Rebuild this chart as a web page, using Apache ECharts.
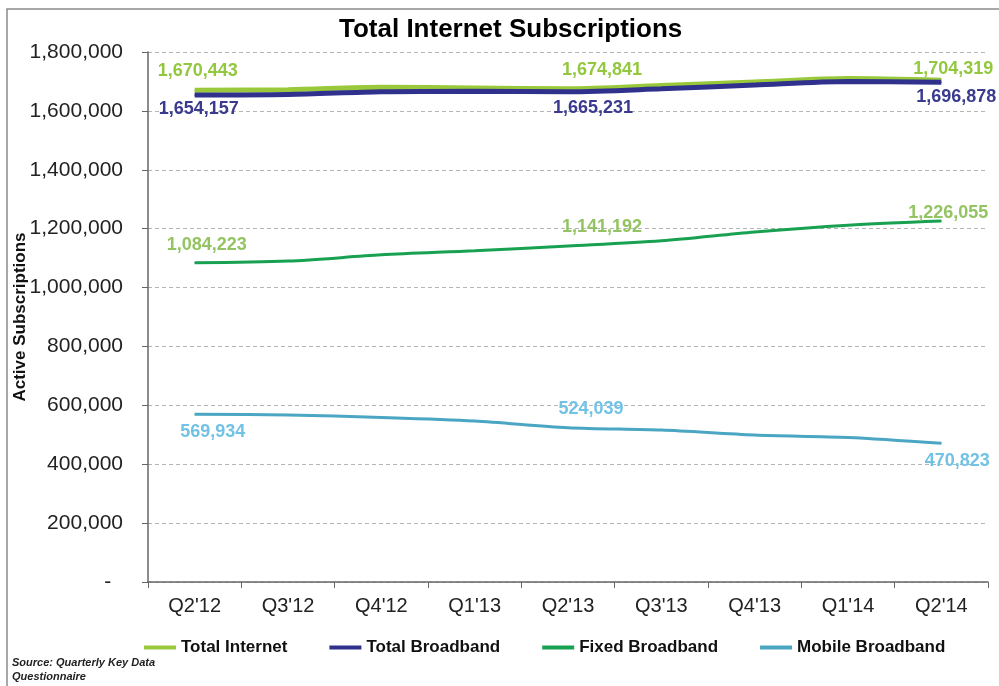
<!DOCTYPE html>
<html>
<head>
<meta charset="utf-8">
<script src="https://cdn.jsdelivr.net/npm/echarts@6/dist/echarts.min.js"></script>
<style>
    html, body { margin: 0; padding: 0; background: #fff; }
    #chart { width: 999px; height: 686px; }
</style>
</head>
<body>
<div id="chart"></div>
<script>
    // quarters on the x axis
    var quarters = ["Q2'12", "Q3'12", "Q4'12", "Q1'13", "Q2'13", "Q3'13", "Q4'13", "Q1'14", "Q2'14"];

    // series values (labelled points are exact, the rest)
    var totalInternet  = [1670443, 1672000, 1680000, 1678000, 1674841, 1686000, 1698000, 1710000, 1704319];
    var totalBroadband = [1654157, 1656000, 1665000, 1667000, 1665231, 1675000, 1688000, 1700000, 1696878];
    var fixedBroadband = [1084223, 1090000, 1111000, 1125000, 1141192, 1159000, 1189000, 1212000, 1226055];
    var mobileBroadband = [569934, 567000, 559000, 547000, 524039, 516000, 499000, 491000, 470823];

    var yTicks = [0, 200000, 400000, 600000, 800000, 1000000, 1200000, 1400000, 1600000, 1800000];

    // only these points carry a value label
    var labelIdx = [0, 4, 8];

    var fmt = function (v) {
        return v.toString().replace(/\B(?=(\d{3})+(?!\d))/g, ',');
    };

    function withLabels(values, color, offsets) {
        return values.map(function (v, i) {
            var k = labelIdx.indexOf(i);
            if (k < 0) return v;
            return {
                value: v,
                label: {
                    show: true,
                    position: 'inside',
                    offset: offsets[k],
                    color: color,
                    fontSize: 18,
                    fontWeight: 'bold',
                    fontFamily: 'Arial, Liberation Sans, sans-serif',
                    formatter: function (p) { return fmt(p.value); }
                }
            };
        });
    }

    function lineSeries(name, values, color, width, labelColor, offsets) {
        return {
            name: name,
            type: 'line',
            smooth: 0.3,
            symbol: 'circle',
            symbolSize: 1,
            showSymbol: true,
            itemStyle: { color: color },
            lineStyle: { color: color, width: width },
            label: { show: false },
            emphasis: { disabled: true },
            data: withLabels(values, labelColor, offsets)
        };
    }

    var chart = echarts.init(document.getElementById('chart'));
    var option = {
        animation: false,
        backgroundColor: '#fff',
        title: {
            text: 'Total Internet Subscriptions',
            left: 334,
            top: 12,
            textStyle: {
                fontSize: 26,
                fontWeight: 'bold',
                color: '#000',
                fontFamily: 'Arial, Liberation Sans, sans-serif'
            }
        },
        legend: {
            left: 139,
            top: 634,
            itemWidth: 32,
            itemHeight: 4,
            itemGap: 42,
            icon: 'rect',
            textStyle: {
                fontSize: 17,
                fontWeight: 'bold',
                color: '#111',
                fontFamily: 'Arial, Liberation Sans, sans-serif'
            },
            data: ['Total Internet', 'Total Broadband', 'Fixed Broadband', 'Mobile Broadband']
        },
        grid: {
            left: 148,
            right: 11,
            top: 52,
            bottom: 104,
            outerBoundsMode: 'none'
        },
        xAxis: {
            type: 'category',
            data: quarters,
            boundaryGap: true,
            axisLine: { lineStyle: { color: '#666', width: 1.5 } },
            axisTick: { show: true, length: 6, lineStyle: { color: '#666' } },
            axisLabel: {
                fontSize: 20,
                color: '#222',
                margin: 14,
                fontFamily: 'Arial, Liberation Sans, sans-serif'
            }
        },
        yAxis: {
            type: 'value',
            min: 0,
            max: 1800000,
            interval: 200000,
            name: 'Active Subscriptions',
            nameLocation: 'middle',
            nameGap: 119,
            nameMoveOverlap: false,
            nameTextStyle: {
                fontSize: 17,
                fontWeight: 'bold',
                color: '#111',
                fontFamily: 'Arial, Liberation Sans, sans-serif'
            },
            axisLine: { show: true, lineStyle: { color: '#666', width: 1.5 } },
            axisTick: { show: true, length: 6, lineStyle: { color: '#666' } },
            axisLabel: {
                fontSize: 21,
                color: '#222',
                margin: 25,
                fontFamily: 'Arial, Liberation Sans, sans-serif',
                formatter: function (v) {
                    if (yTicks.indexOf(v) < 0) return '';
                    return v === 0 ? '-  ' : fmt(v);
                }
            },
            splitLine: { show: true, lineStyle: { color: '#b5b5b5', type: [4, 3], width: 1 } }
        },
        series: [
            lineSeries('Total Internet', totalInternet, '#99c93a', 5, '#93c83e',
                [[3, -19], [34, -19], [12, -11]]),
            lineSeries('Total Broadband', totalBroadband, '#2f318c', 5, '#3a3b8e',
                [[4, 14], [25, 16], [15, 15]]),
            lineSeries('Fixed Broadband', fixedBroadband, '#19a152', 3, '#94c462',
                [[12, -18], [34, -19], [7, -8]]),
            lineSeries('Mobile Broadband', mobileBroadband, '#4aa6c2', 3, '#72c2e6',
                [[18, 18], [23, -19], [16, 18]])
        ],
        graphic: [
            {
                type: 'rect',
                shape: { x: 7, y: 9, width: 1000, height: 700 },
                style: { fill: 'none', stroke: '#8c8c8c', lineWidth: 1.5 },
                silent: true
            },
            {
                type: 'text',
                left: 12,
                top: 656,
                style: {
                    text: 'Source: Quarterly Key Data\nQuestionnaire',
                    fontSize: 11,
                    fontStyle: 'italic',
                    fontWeight: 'bold',
                    lineHeight: 14,
                    fill: '#222',
                    fontFamily: 'Arial, Liberation Sans, sans-serif'
                }
            }
        ]
    };
    chart.setOption(option);
</script>
</body>
</html>
